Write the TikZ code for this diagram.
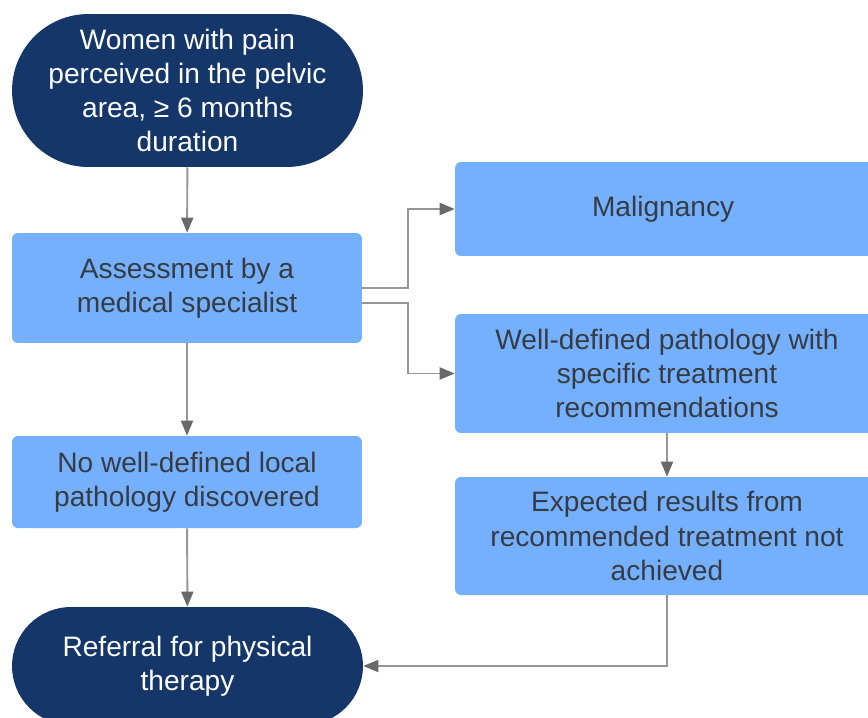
\documentclass[tikz,border=0pt]{standalone}
\definecolor{navyfill}{RGB}{20, 54, 104}
\definecolor{lightblue}{RGB}{116, 176, 253}
\definecolor{boxtext}{RGB}{55, 60, 68}
\definecolor{linegray}{RGB}{150, 150, 150}
\definecolor{tipgray}{RGB}{105, 105, 105}
\usepackage{fontspec}
\setmainfont{Liberation Sans}
\usepackage{tikz}
\usetikzlibrary{shapes.misc, arrows.meta, positioning}

\tikzset{
  terminal/.style={rounded rectangle, fill=navyfill, text=white, inner sep=0pt,
    minimum width=7.02cm, align=center, font=\fontsize{16}{19.5}\selectfont},
  process/.style={rectangle, rounded corners=0.12cm, fill=lightblue, text=boxtext,
    inner sep=0pt, align=center, font=\fontsize{16}{19.5}\selectfont},
  flow/.style={draw=linegray, line width=1.1pt,
    -{Triangle[length=0.3cm, width=0.24cm, color=tipgray]}}
}

\begin{document}
\begin{tikzpicture}[x=0.02cm, y=-0.02cm]
  \useasboundingbox (0,0) rectangle (868,717);
  \clip (0,0) rectangle (868,717);

  \node[terminal, minimum height=3.06cm] (women) at (187.5,90.5) {
    Women with pain\\ perceived in the pelvic\\ area, ≥ 6 months\\ duration
  };
  \node[process, minimum width=7cm, minimum height=2.2cm] (assess) at (187,288) {
    Assessment by a\\ medical specialist
  };
  \node[process, minimum width=8.48cm, minimum height=1.88cm] (malig) at (667,209) {
    Malignancy
  };
  \node[process, minimum width=8.48cm, minimum height=2.38cm] (welldef) at (667,373.5) {
    Well-defined pathology with\\ specific treatment\\ recommendations
  };
  \node[process, minimum width=7cm, minimum height=1.84cm] (nolocal) at (187,482) {
    No well-defined local\\ pathology discovered
  };
  \node[process, minimum width=8.48cm, minimum height=2.36cm] (expected) at (667,536) {
    Expected results from\\ recommended treatment not\\ achieved
  };
  \node[terminal, minimum height=2.36cm] (referral) at (187.5,666) {
    Referral for physical\\ therapy
  };

  \draw[flow] (women) -- (assess);
  \draw[flow] (assess) -- (nolocal);
  \draw[flow] (nolocal) -- (referral);
  \draw[flow] (assess.east) -- ++(46,0) |- (malig.west);
  \draw[flow] ([yshift=-0.3cm]assess.east) -- ++(46,0) |- (welldef.west);
  \draw[flow] (welldef) -- (expected);
  \draw[flow] (expected.south) |- (referral.east);
\end{tikzpicture}
\end{document}
